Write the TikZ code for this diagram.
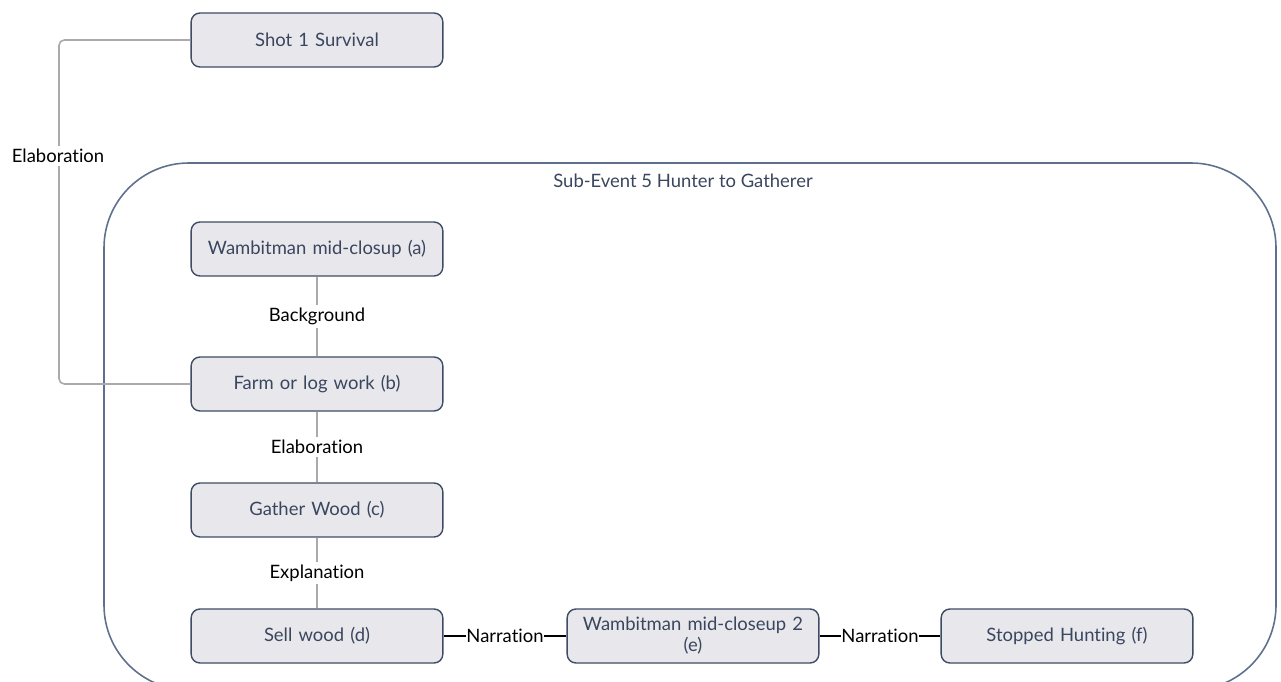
\documentclass[tikz,border=0pt]{standalone}
\usepackage{fontspec}
\setmainfont{Lato}[Ligatures=NoCommon]
\usetikzlibrary{positioning}
\definecolor{boxfill}{RGB}{232,232,236}
\definecolor{boxline}{RGB}{62,76,102}
\definecolor{boxtext}{RGB}{58,70,94}
\definecolor{linkgray}{RGB}{170,170,172}
\definecolor{framecol}{RGB}{95,112,140}

\begin{document}
\begin{tikzpicture}[x=0.02cm, y=-0.02cm,
    shot/.style={draw=boxline, fill=boxfill, line width=0.8pt, rounded corners=5pt,
      minimum width=5cm, minimum height=1.08cm, text=boxtext, font=\fontsize{10.5}{12}\selectfont,
      align=center, text width=4.8cm},
    link/.style={linkgray, line width=0.9pt},
    rel/.style={fill=white, inner sep=1.5pt, font=\fontsize{10.5}{12}\selectfont, text=black}]
    \useasboundingbox (0,0) rectangle (1281,682);
    % --- Sub-event frame (bottom runs off the page) ---
    \begin{scope}
      \clip (0,0) rectangle (1281,682);
      \draw[framecol, line width=0.9pt, rounded corners=1.7cm] (104,163) rectangle (1276,690);
    \end{scope}
    \node[text=boxtext, font=\fontsize{10.5}{12}\selectfont] (title) at (683,181) {Sub-Event 5 Hunter to Gatherer};
    % --- Shots ---
    \node[shot] (surv) at (317,40) {Shot 1 Survival};
    \node[shot] (a) at (317,249) {Wambitman mid-closup (a)};
    \node[shot] (b) at (317,384) {Farm or log work (b)};
    \node[shot] (c) at (317,510) {Gather Wood (c)};
    \node[shot] (d) at (317,636) {Sell wood (d)};
    \node[shot] (e) at (693,636) {Wambitman mid-closeup 2\\(e)};
    \node[shot] (f) at (1067,636) {Stopped Hunting (f)};
    % --- Relations ---
    \draw[link, rounded corners=3pt] (surv.west) -| (59,384) -- (b.west);
    \node[rel] (elab0) at (58,156) {Elaboration};
    \draw[link] (a) -- node[rel] {Background} (b);
    \draw[link] (b) -- node[rel] {Elaboration} (c);
    \draw[link] (c) -- node[rel] {Explanation} (d);
    \draw[link, black, line width=0.7pt] (d) -- node[rel, inner sep=0.5pt] {Narration} (e);
    \draw[link, black, line width=0.7pt] (e) -- node[rel, inner sep=0.5pt] {Narration} (f);
\end{tikzpicture}
\end{document}
